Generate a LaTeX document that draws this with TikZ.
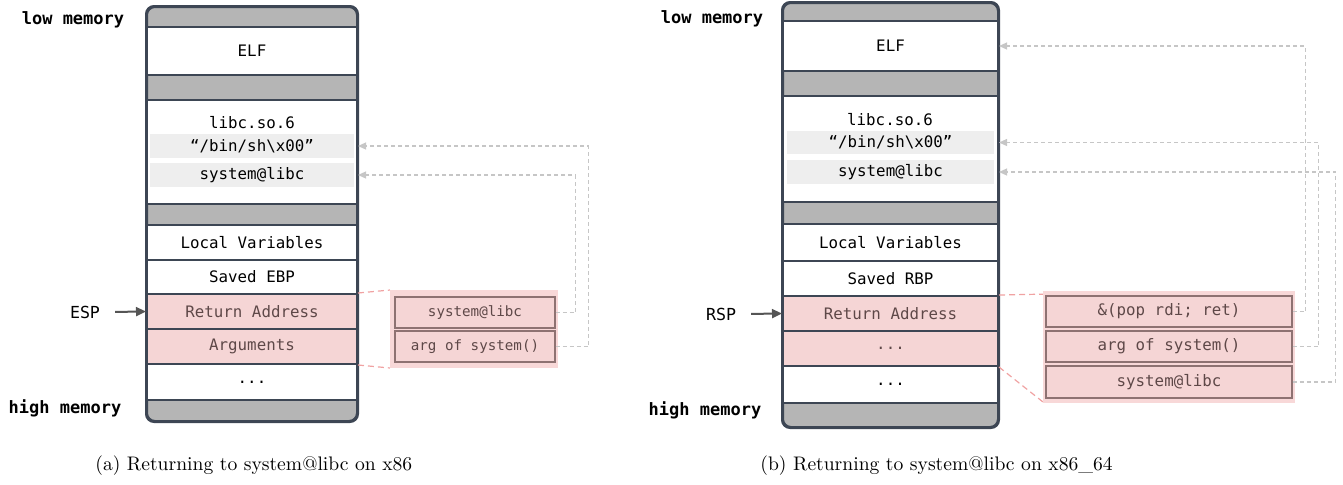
\documentclass[tikz,border=0pt]{standalone}
\usepackage{fontspec}
\setmonofont{DejaVu Sans Mono}
\usetikzlibrary{fit,arrows.meta}

\definecolor{stackline}{HTML}{3D4654}
\definecolor{capgray}{HTML}{B5B5B5}
\definecolor{bandgray}{HTML}{EEEEEE}
\definecolor{pinkfill}{HTML}{F5D5D5}
\definecolor{pinktext}{HTML}{5E4848}
\definecolor{callfill}{HTML}{F8D8D8}
\definecolor{callline}{HTML}{8E7272}
\definecolor{linkpink}{HTML}{F0A2A2}
\definecolor{ptrgray}{HTML}{C6C6C6}
\definecolor{spgray}{HTML}{555555}

\newcommand\stackfont{\ttfamily\fontsize{7.9}{9}\selectfont}
\newcommand\memfont{\ttfamily\bfseries\fontsize{8.5}{10}\selectfont}
\newcommand\regfont{\ttfamily\fontsize{8.3}{10}\selectfont}
\newcommand\callfontA{\ttfamily\fontsize{7.1}{9}\selectfont}
\newcommand\callfontB{\ttfamily\fontsize{7.9}{9}\selectfont}
\newcommand\capfont{\fontsize{9.8}{12}\selectfont}

\begin{document}
\begin{tikzpicture}[x=0.5pt,y=-0.5pt,
  stackframe/.style={draw=stackline, line width=1pt, fill=capgray, rounded corners=4pt, inner sep=0pt},
  stackborder/.style={draw=stackline, line width=1pt, rounded corners=4pt},
  row/.style={draw=stackline, line width=1pt, fill=white, inner sep=0pt},
  rowtext/.style={font=\stackfont, text=black, inner sep=0pt},
  hotrow/.style={row, fill=pinkfill},
  hottext/.style={font=\stackfont, text=pinktext, inner sep=0pt},
  band/.style={fill=bandgray, inner sep=0pt},
  callframe/.style={fill=callfill, inner sep=0pt},
  callcell/.style={draw=callline, line width=0.7pt, fill=pinkfill, inner sep=0pt},
  calltextA/.style={font=\callfontA, text=pinktext, inner sep=0pt},
  calltextB/.style={font=\callfontB, text=pinktext, inner sep=0pt},
  linkline/.style={draw=linkpink, line width=0.6pt, dash pattern=on 3pt off 2pt},
  ptr/.style={draw=ptrgray, line width=0.55pt, dash pattern=on 2pt off 1.5pt,
    -{Triangle[length=4pt,width=3.5pt,fill=ptrgray]}},
  sparrow/.style={draw=spgray, line width=1pt, shorten <=4pt,
    -{Triangle[length=5pt,width=4.5pt]}},
  memlabel/.style={font=\memfont, text=black},
  caption/.style={font=\capfont, anchor=west, inner sep=0pt}
]
\useasboundingbox (0,0) rectangle (1343,484);

% ---------- (a) x86 ----------
\node[stackframe, fit={(147,7)(357,421)}] (a-stack) {};
\node[row, fit={(147,27)(357,75)}, label={[rowtext]center:ELF}] (a-elf) {};
\node[row, fit={(147,100)(357,204)}] (a-libc) {};
\node[rowtext] (a-libcname) at (252,123) {libc.so.6};
\node[band, fit={(150,134)(354,158)}, label={[rowtext]center:“/bin/sh\textbackslash x00”}] (a-binsh) {};
\node[band, fit={(150,163)(354,187)}, label={[rowtext]center:system@libc}] (a-system) {};
\node[row, fit={(147,225)(357,260)}, label={[rowtext]center:Local Variables}] (a-locals) {};
\node[row, fit={(147,260)(357,294)}, label={[rowtext]center:Saved EBP}] (a-savedbp) {};
\node[hotrow, fit={(147,294)(357,329)}, label={[hottext]center:Return Address}] (a-ret) {};
\node[hotrow, fit={(147,329)(357,364)}, label={[hottext]center:Arguments}] (a-args) {};
\node[row, fit={(147,364)(357,400)}, label={[rowtext]center:...}] (a-more) {};
\draw[stackborder] (a-stack.north west) rectangle (a-stack.south east);

\node[memlabel] (a-low) at (73,20) {low memory};
\node[memlabel] (a-high) at (65,408) {high memory};
\node[font=\regfont] (a-sp) at (85,312) {ESP};
\draw[sparrow] (a-sp.east) -- (a-ret.west);

\coordinate (a-frametl) at (390,290);
\coordinate (a-framebl) at (390,368);
\draw[linkline] (a-ret.north east) -- (a-frametl);
\draw[linkline] (a-args.south east) -- (a-framebl);
\node[callframe, fit={(390,290)(558,368)}] (a-frame) {};
\node[callcell, fit={(395,297)(555,328)}, label={[calltextA]center:system@libc}] (a-c1) {};
\node[callcell, fit={(395,331)(555,362)}, label={[calltextA]center:arg of system()}] (a-c2) {};
\draw[ptr] (a-c1.east) -- ++(20,0) |- (a-libc.east |- a-system);
\draw[ptr] (a-c2.east) -- ++(33,0) |- (a-libc.east |- a-binsh);

\node[caption] (a-caption) at (95,466) {(a) Returning to system@libc on x86};

% ---------- (b) x86_64 ----------
\node[stackframe, fit={(783,3)(998,427)}] (b-stack) {};
\node[row, fit={(783,21)(998,71)}, label={[rowtext]center:ELF}] (b-elf) {};
\node[row, fit={(783,96)(998,202)}] (b-libc) {};
\node[rowtext] (b-libcname) at (890,120) {libc.so.6};
\node[band, fit={(787,131)(994,154)}, label={[rowtext]center:“/bin/sh\textbackslash x00”}] (b-binsh) {};
\node[band, fit={(787,160)(994,184)}, label={[rowtext]center:system@libc}] (b-system) {};
\node[row, fit={(783,224)(998,261)}, label={[rowtext]center:Local Variables}] (b-locals) {};
\node[row, fit={(783,261)(998,296)}, label={[rowtext]center:Saved RBP}] (b-savedbp) {};
\node[hotrow, fit={(783,296)(998,331)}, label={[hottext]center:Return Address}] (b-ret) {};
\node[hotrow, fit={(783,331)(998,366)}, label={[hottext]center:...}] (b-pad) {};
\node[row, fit={(783,366)(998,403)}, label={[rowtext]center:...}] (b-more) {};
\draw[stackborder] (b-stack.north west) rectangle (b-stack.south east);

\node[memlabel] (b-low) at (712,19) {low memory};
\node[memlabel] (b-high) at (705,410) {high memory};
\node[font=\regfont] (b-sp) at (721,314) {RSP};
\draw[sparrow] (b-sp.east) -- (b-ret.west);

\coordinate (b-frametl) at (1050,294);
\coordinate (b-framebl) at (1043,402);
\draw[linkline] (b-ret.north east) -- (b-frametl);
\draw[linkline] (b-pad.south east) -- (b-framebl);
\node[callframe, fit={(1043,291)(1295,403)}] (b-frame) {};
\node[callcell, fit={(1046,296)(1292,327)}, label={[calltextB]center:\&(pop rdi; ret)}] (b-c1) {};
\node[callcell, fit={(1046,331)(1292,362)}, label={[calltextB]center:arg of system()}] (b-c2) {};
\node[callcell, fit={(1046,366)(1292,398)}, label={[calltextB]center:system@libc}] (b-c3) {};
\draw[ptr] (b-c1.east) -- ++(13,0) |- (b-elf.east);
\draw[ptr] (b-c2.east) -- ++(26,0) |- (b-libc.east |- b-binsh);
\draw[ptr] (b-c3.east) -- ++(43,0) |- (b-libc.east |- b-system);

\node[caption] (b-caption) at (760,466) {(b) Returning to system@libc on x86\_64};
\end{tikzpicture}
\end{document}
